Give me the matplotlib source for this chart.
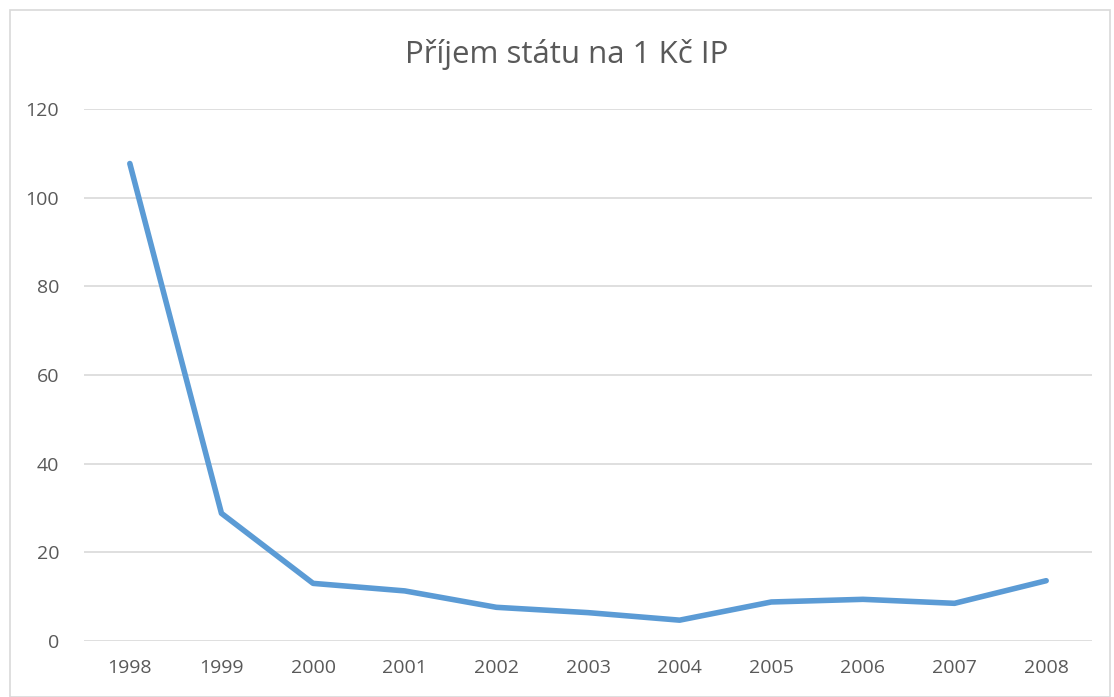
import matplotlib.pyplot as plt
from matplotlib.patches import Rectangle

# values
years = ["1998", "1999", "2000", "2001", "2002", "2003", "2004", "2005", "2006", "2007", "2008"]
income = [107.7, 28.8, 13.0, 11.3, 7.6, 6.4, 4.7, 8.8, 9.4, 8.5, 13.6]
y_ticks = [0, 20, 40, 60, 80, 100, 120]

text_color = "#595959"
grid_color = "#D9D9D9"
line_color = "#5B9BD5"

plt.rcParams["font.family"] = ["Open Sans", "DejaVu Sans"]

fig = plt.figure(figsize=(11.14, 6.97), dpi=100)
fig.patches.append(Rectangle((10 / 1114, 0), 1100 / 1114, 687 / 697, transform=fig.transFigure,
                             fill=False, edgecolor=grid_color, linewidth=1.2))

ax = fig.add_axes([84 / 1114, 1 - 641 / 697, 1008 / 1114, 532 / 697])
x = list(range(len(years)))
ax.plot(x, income, color=line_color, linewidth=4.0, solid_capstyle="round", solid_joinstyle="round", zorder=3)

ax.set_xlim(-0.5, len(years) - 0.5)
ax.set_ylim(0, 120)
ax.set_xticks(x)
ax.set_xticklabels(years)
ax.set_yticks(y_ticks)
ax.yaxis.grid(True, color=grid_color, linewidth=1.2)
ax.set_axisbelow(True)
for s in ax.spines.values():
    s.set_visible(False)
ax.tick_params(axis="both", length=0, labelsize=14, colors=text_color)
ax.tick_params(axis="x", pad=13)
ax.tick_params(axis="y", pad=18)

fig.text(567 / 1114, 1 - 55 / 697, "Příjem státu na 1 Kč IP", ha="center", va="center",
         fontsize=22.5, color=text_color)

fig.savefig("out.png", dpi=100)
